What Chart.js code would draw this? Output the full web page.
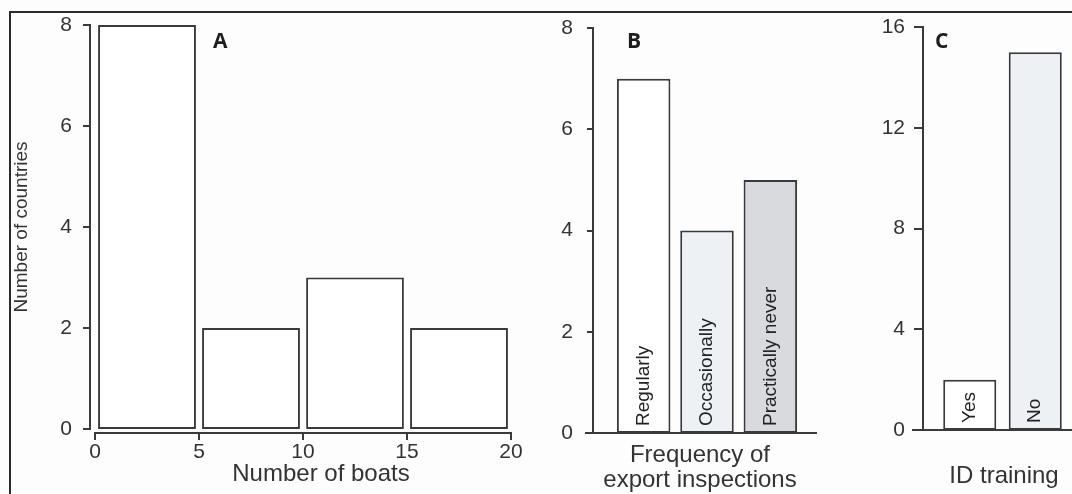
<!DOCTYPE html>
<html>
<head>
<meta charset="utf-8">
<title>Boats, inspections, ID training</title>
<script src="https://cdn.jsdelivr.net/npm/chart.js@4.4.1/dist/chart.umd.min.js"></script>
<style>
  html, body { margin: 0; padding: 0; background: #fdfdfd; }
  #fig { position: relative; width: 1072px; height: 494px; overflow: hidden; }
  #moldura { position: absolute; left: 9px; top: 11px; width: 1100px; height: 520px;
             border-top: 2px solid #2a2a2a; border-left: 2px solid #2a2a2a; }
  .painel { position: absolute; top: 0; height: 494px; }
</style>
</head>
<body>
<div id="fig">
  <div id="moldura"></div>
  <div class="painel" style="left:0;width:540px"><canvas id="chartA" width="540" height="494"></canvas></div>
  <div class="painel" style="left:540px;width:290px"><canvas id="chartB" width="290" height="494"></canvas></div>
  <div class="painel" style="left:830px;width:242px"><canvas id="chartC" width="242" height="494"></canvas></div>
</div>
<script>
// dados do painel A (histograma)
const boatBinMids = [2.5, 7.5, 12.5, 17.5];
const boatCounts = [8, 2, 3, 2];
const boatTicks = [0, 5, 10, 15, 20];
const countTicksA = [0, 2, 4, 6, 8];

// painel B
const inspCats = ['Regularly', 'Occasionally', 'Practically never'];
const inspCounts = [7, 4, 5];
const countTicksB = [0, 2, 4, 6, 8];

// painel C
const trainCats = ['Yes', 'No'];
const trainCounts = [2, 15];
const countTicksC = [0, 4, 8, 12, 16];

Chart.defaults.font.family = '"Liberation Sans", Arial, sans-serif';
Chart.defaults.color = '#333';

const LINHA = '#3a3a3a';
const TAM_TICK = 21;

// eixos no estilo do R (linhas separadas da area do grafico)
const rAxes = {
  id: 'rAxes',
  afterDraw(chart, args, o) {
    const ctx = chart.ctx, a = chart.chartArea;
    const xs = chart.scales.x, ys = chart.scales.y;
    ctx.save();
    ctx.strokeStyle = LINHA;
    ctx.lineWidth = 2;
    const lx = Math.round(a.left - o.yGap);
    const yp = ys.ticks.map(t => Math.round(ys.getPixelForValue(t.value)));
    ctx.beginPath();
    ctx.moveTo(lx, Math.min(...yp) - 1);
    ctx.lineTo(lx, Math.max(...yp) + 1);
    yp.forEach(p => { ctx.moveTo(lx, p); ctx.lineTo(lx - o.tick, p); });
    if (o.xMode === 'ticks') {
      const ly = Math.round(a.bottom + o.xGap);
      const xp = xs.ticks.map(t => Math.round(xs.getPixelForValue(t.value)));
      ctx.moveTo(Math.min(...xp) - 1, ly);
      ctx.lineTo(Math.max(...xp) + 1, ly);
      xp.forEach(p => { ctx.moveTo(p, ly); ctx.lineTo(p, ly + o.tick); });
    } else {
      const ly = Math.round(a.bottom);
      ctx.moveTo(lx - o.tick - 2, ly);
      ctx.lineTo(a.right + o.xExt, ly);
    }
    ctx.stroke();

    // letra do painel
    ctx.fillStyle = '#1e1e1e';
    ctx.font = 'bold 21px "Open Sans", sans-serif';
    ctx.textAlign = 'left';
    ctx.textBaseline = 'alphabetic';
    ctx.fillText(o.letter, o.letterX, o.letterY);

    // titulo do eixo x
    ctx.fillStyle = '#333';
    ctx.font = '24px "Liberation Sans", Arial, sans-serif';
    ctx.textAlign = 'center';
    o.xTitle.forEach((s, i) => ctx.fillText(s, (a.left + a.right) / 2 + o.titleDx, o.titleY + i * 25));

    // rotulos dentro das barras
    if (o.inner) {
      ctx.font = '19px "Liberation Sans", Arial, sans-serif';
      ctx.fillStyle = '#222';
      ctx.textAlign = 'left';
      ctx.textBaseline = 'middle';
      chart.getDatasetMeta(0).data.forEach((bar, i) => {
        ctx.save();
        ctx.translate(bar.x, bar.base - 7);
        ctx.rotate(-Math.PI / 2);
        ctx.fillText(chart.data.labels[i], 0, 0);
        ctx.restore();
      });
    }
    ctx.restore();
  }
};

function eixoY(ticksArr, largura, pad, titulo) {
  return {
    min: ticksArr[0],
    max: ticksArr[ticksArr.length - 1],
    afterBuildTicks: s => { s.ticks = ticksArr.map(v => ({ value: v })); },
    afterFit: s => { s.width = largura; s.paddingTop = 0; s.paddingBottom = 0; },
    grid: { display: false, drawTicks: false },
    border: { display: false },
    ticks: { padding: pad, color: '#333', font: { size: TAM_TICK } },
    title: titulo || { display: false }
  };
}

function eixoXCat(altura) {
  return {
    afterFit: s => { s.height = altura; s.paddingLeft = 0; s.paddingRight = 0; },
    grid: { display: false, drawTicks: false },
    border: { display: false },
    ticks: { display: false }
  };
}

const semExtras = { legend: { display: false }, tooltip: { enabled: false } };

// Grafico A
new Chart(document.getElementById('chartA'), {
  type: 'bar',
  data: {
    datasets: [{
      data: boatBinMids.map((m, i) => ({ x: m, y: boatCounts[i] })),
      backgroundColor: '#ffffff',
      borderColor: LINHA,
      borderWidth: 2,
      borderSkipped: false,
      barPercentage: 0.94,
      categoryPercentage: 1
    }]
  },
  options: {
    responsive: false,
    animation: false,
    layout: { padding: { left: 0, top: 25, right: 29, bottom: 0 } },
    plugins: Object.assign({}, semExtras, {
      rAxes: { yGap: 5, xGap: 4, tick: 7, xMode: 'ticks', letter: 'A', letterX: 213, letterY: 48,
               xTitle: ['Number of boats'], titleDx: 18, titleY: 481 }
    }),
    scales: {
      x: {
        type: 'linear', min: 0, max: 20, offset: false,
        afterBuildTicks: s => { s.ticks = boatTicks.map(v => ({ value: v })); },
        afterFit: s => { s.height = 65; s.paddingLeft = 0; s.paddingRight = 0; },
        grid: { display: false, drawTicks: false },
        border: { display: false },
        ticks: { padding: 11, color: '#333', font: { size: TAM_TICK } }
      },
      y: eixoY(countTicksA, 95, 23, {
        display: true, text: 'Number of countries', color: '#333',
        font: { size: 19 }, padding: { top: 10, bottom: 0 }
      })
    }
  },
  plugins: [rAxes]
});

// Grafico B
new Chart(document.getElementById('chartB'), {
  type: 'bar',
  data: {
    labels: inspCats,
    datasets: [{
      data: inspCounts,
      backgroundColor: ['#ffffff', '#eef1f4', '#d8dadd'],
      borderColor: LINHA,
      borderWidth: 2,
      borderSkipped: false,
      barPercentage: 0.845,
      categoryPercentage: 1
    }]
  },
  options: {
    responsive: false,
    animation: false,
    layout: { padding: { left: 0, top: 28, right: 28, bottom: 0 } },
    plugins: Object.assign({}, semExtras, {
      rAxes: { yGap: 19, tick: 6, xMode: 'line', xExt: 15, letter: 'B', letterX: 87, letterY: 48,
               xTitle: ['Frequency of', 'export inspections'], titleDx: -7, titleY: 462, inner: true }
    }),
    scales: {
      x: eixoXCat(61),
      y: eixoY(countTicksB, 72, 39)
    }
  },
  plugins: [rAxes]
});

// Grafico C
new Chart(document.getElementById('chartC'), {
  type: 'bar',
  data: {
    labels: trainCats,
    datasets: [{
      data: trainCounts,
      backgroundColor: ['#ffffff', '#eef1f4'],
      borderColor: LINHA,
      borderWidth: 2,
      borderSkipped: false,
      barPercentage: 0.81,
      categoryPercentage: 1
    }]
  },
  options: {
    responsive: false,
    animation: false,
    layout: { padding: { left: 0, top: 27, right: 4, bottom: 0 } },
    plugins: Object.assign({}, semExtras, {
      rAxes: { yGap: 14, tick: 9, xMode: 'line', xExt: 10, letter: 'C', letterX: 105, letterY: 48,
               xTitle: ['ID training'], titleDx: 1.5, titleY: 483, inner: true }
    }),
    scales: {
      x: eixoXCat(64),
      y: eixoY(countTicksC, 107, 32)
    }
  },
  plugins: [rAxes]
});
</script>
</body>
</html>
